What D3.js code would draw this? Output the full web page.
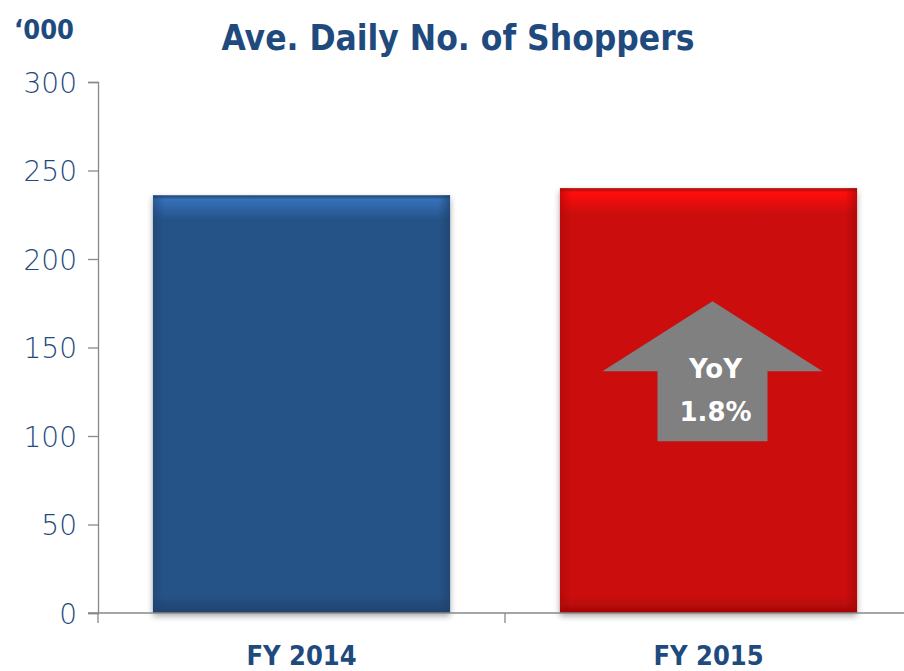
<!DOCTYPE html>
<html>
<head>
<meta charset="utf-8">
<script src="https://d3js.org/d3.v7.min.js"></script>
<style>
  body { margin: 0; background: #fff; }
  svg { display: block; }
</style>
</head>
<body>
<div id="chart"></div>
<script>
// data
var categories = ["FY 2014", "FY 2015"];
var values = [236, 240];
var barColors = ["#265287", "#CC0808"];
var yTicks = [0, 50, 100, 150, 200, 250, 300];
var yoyLabel = ["YoY", "1.8%"];

var width = 904, height = 671;
var margin = { top: 82, right: -8, bottom: 58, left: 98 };
var innerW = width - margin.left - margin.right,
    innerH = height - margin.top - margin.bottom;

var svg = d3.select("#chart").append("svg")
  .attr("width", width)
  .attr("height", height);

var defs = svg.append("defs");

// bevel-ish gradients for bars
barColors.forEach(function(c, i) {
  var light = d3.color(c).brighter(0.9).formatHex();
  var dark = d3.color(c).darker(0.6).formatHex();
  var gv = defs.append("linearGradient").attr("id", "gv" + i)
    .attr("x1", 0).attr("y1", 0).attr("x2", 0).attr("y2", 1);
  gv.append("stop").attr("offset", 0).attr("stop-color", dark);
  gv.append("stop").attr("offset", 0.01).attr("stop-color", light);
  gv.append("stop").attr("offset", 0.06).attr("stop-color", c);
  gv.append("stop").attr("offset", 0.96).attr("stop-color", c);
  gv.append("stop").attr("offset", 1).attr("stop-color", dark);
  var gh = defs.append("linearGradient").attr("id", "gh" + i)
    .attr("x1", 0).attr("y1", 0).attr("x2", 1).attr("y2", 0);
  gh.append("stop").attr("offset", 0).attr("stop-color", dark).attr("stop-opacity", 0.5);
  gh.append("stop").attr("offset", 0.04).attr("stop-color", dark).attr("stop-opacity", 0);
  gh.append("stop").attr("offset", 0.96).attr("stop-color", dark).attr("stop-opacity", 0);
  gh.append("stop").attr("offset", 1).attr("stop-color", dark).attr("stop-opacity", 0.7);
});

var shadow = defs.append("filter").attr("id", "shadow")
  .attr("x", "-10%").attr("y", "-10%").attr("width", "120%").attr("height", "120%");
shadow.append("feDropShadow").attr("dx", 0).attr("dy", 3).attr("stdDeviation", 3)
  .attr("flood-color", "#000").attr("flood-opacity", 0.35);

var g = svg.append("g").attr("transform", "translate(" + margin.left + "," + margin.top + ")");

var x = d3.scaleBand().domain(categories).range([0, innerW]).paddingInner(0.27).paddingOuter(0.135);
var y = d3.scaleLinear().domain([0, 300]).range([innerH, 0]);

// y axis
var yAxis = g.append("g")
  .call(d3.axisLeft(y).tickValues(yTicks).tickSize(10).tickPadding(11));
yAxis.select(".domain").attr("stroke", "#888").attr("stroke-width", 1.3);
yAxis.selectAll(".tick line").attr("stroke", "#888").attr("stroke-width", 1.3);
yAxis.selectAll(".tick text")
  .attr("fill", "#1F4A7E")
  .style("font-family", "'DejaVu Sans', sans-serif")
  .style("font-weight", "200")
  .style("font-size", "28px")
  .attr("dy", "0.36em");

// bars
var bars = g.selectAll(".bar").data(values).enter().append("g").attr("class", "bar");
bars.append("rect")
  .attr("x", function(d, i) { return x(categories[i]); })
  .attr("y", function(d) { return y(d); })
  .attr("width", x.bandwidth())
  .attr("height", function(d) { return innerH - y(d); })
  .attr("fill", function(d, i) { return "url(#gv" + i + ")"; })
  .attr("filter", "url(#shadow)");
bars.append("rect")
  .attr("x", function(d, i) { return x(categories[i]); })
  .attr("y", function(d) { return y(d); })
  .attr("width", x.bandwidth())
  .attr("height", function(d) { return innerH - y(d); })
  .attr("fill", function(d, i) { return "url(#gh" + i + ")"; });

// x axis (drawn over bar bottoms)
var xTickPos = [0, innerW / 2, innerW];
var xAxis = g.append("g").attr("transform", "translate(0," + innerH + ")");
xAxis.append("line").attr("x1", -10).attr("x2", innerW).attr("y1", 0).attr("y2", 0)
  .attr("stroke", "#888").attr("stroke-width", 1.3);
xAxis.selectAll(".xt").data(xTickPos).enter().append("line")
  .attr("x1", function(d) { return d; }).attr("x2", function(d) { return d; })
  .attr("y1", 0).attr("y2", 10).attr("stroke", "#888").attr("stroke-width", 1.3);
xAxis.selectAll(".xl").data(categories).enter().append("text")
  .attr("x", function(d) { return x(d) + x.bandwidth() / 2; })
  .attr("y", 52)
  .attr("text-anchor", "middle")
  .attr("fill", "#1F4A7E")
  .style("font-family", "'DejaVu Sans Condensed', 'DejaVu Sans', sans-serif")
  .style("font-weight", "bold")
  .style("font-size", "27px")
  .text(function(d) { return d; });

// YoY arrow on FY 2015 bar
var cx = x(categories[1]) + x.bandwidth() / 2 + 4;
var arrowTop = y(values[1]) + 113;
var arrowPts = [
  [cx, arrowTop],
  [cx + 110, arrowTop + 70],
  [cx + 55, arrowTop + 70],
  [cx + 55, arrowTop + 140],
  [cx - 55, arrowTop + 140],
  [cx - 55, arrowTop + 70],
  [cx - 110, arrowTop + 70]
];
g.append("polygon")
  .attr("points", arrowPts.map(function(p) { return p.join(","); }).join(" "))
  .attr("fill", "#808080");
g.selectAll(".yoy").data(yoyLabel).enter().append("text")
  .attr("x", cx + 3)
  .attr("y", function(d, i) { return arrowTop + 77 + i * 43; })
  .attr("text-anchor", "middle")
  .attr("fill", "#fff")
  .style("font-family", "'DejaVu Sans', sans-serif")
  .style("font-weight", "bold")
  .style("font-size", "26px")
  .text(function(d) { return d; });

// title and unit
svg.append("text")
  .attr("x", 458).attr("y", 50)
  .attr("text-anchor", "middle")
  .attr("fill", "#1F4A7E")
  .style("font-family", "'DejaVu Sans Condensed', 'DejaVu Sans', sans-serif")
  .style("font-weight", "bold")
  .style("font-size", "35px")
  .text("Ave. Daily No. of Shoppers");
svg.append("text")
  .attr("x", 14).attr("y", 39)
  .attr("fill", "#1F4A7E")
  .style("font-family", "'DejaVu Sans Condensed', 'DejaVu Sans', sans-serif")
  .style("font-weight", "bold")
  .style("font-size", "27px")
  .text("\u2018000");
</script>
</body>
</html>
